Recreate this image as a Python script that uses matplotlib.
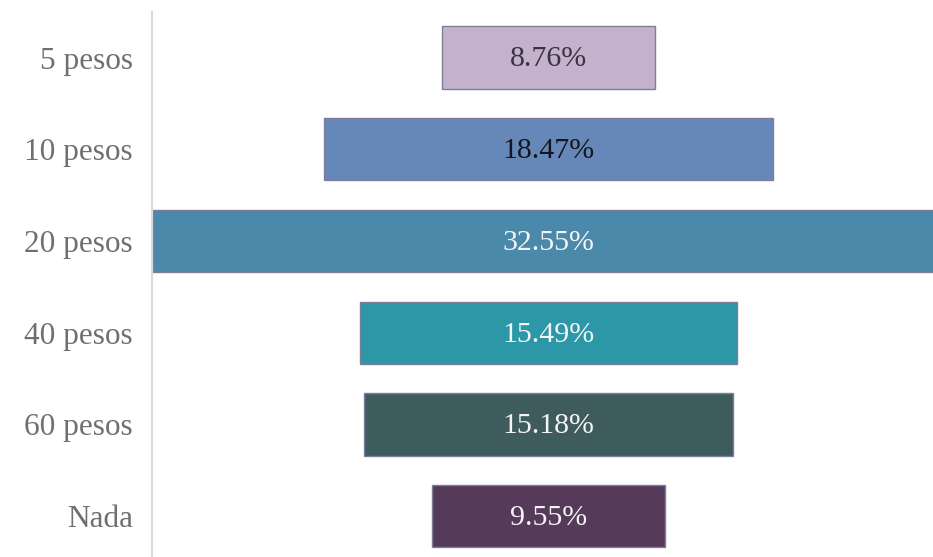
import matplotlib.pyplot as plt

categories = ["5 pesos", "10 pesos", "20 pesos", "40 pesos", "60 pesos", "Nada"]
values = [8.76, 18.47, 32.55, 15.49, 15.18, 9.55]
labels = ["8.76%", "18.47%", "32.55%", "15.49%", "15.18%", "9.55%"]
colors = ["#c4b1cc", "#6688b8", "#4a89aa", "#2c97a6", "#3e5b5d", "#563a5a"]
text_colors = ["#3b3140", "#15151f", "#f4f4f4", "#f4f4f4", "#f4f4f4", "#f4f4f4"]

plt.rcParams['font.family'] = ['Liberation Serif', 'DejaVu Serif']

fig = plt.figure(figsize=(9.33, 5.57), dpi=100)
ax = fig.add_axes([0.163, -0.009, 0.837, 0.988])

y = list(range(len(categories)))
lefts = [-v / 2 for v in values]
ax.barh(y, values, left=lefts, height=0.68, color=colors,
        edgecolor="#7d7f9a", linewidth=1.0)

for yi, lab, tc in zip(y, labels, text_colors):
    ax.text(0, yi + 0.02, lab, ha="center", va="center", fontsize=21.5, color=tc)

ax.set_yticks(y)
ax.set_yticklabels(categories, fontsize=22.5, color="#6f6f6f")
ax.tick_params(axis="y", length=0, pad=14)
ax.set_xticks([])
ax.set_xlim(-16.3, 15.8)
ax.set_ylim(5.5, -0.5)

for s in ["top", "right", "bottom"]:
    ax.spines[s].set_visible(False)
ax.spines["left"].set_color("#d9d9d9")
ax.spines["left"].set_linewidth(1.5)

fig.savefig("out.png", dpi=100)
